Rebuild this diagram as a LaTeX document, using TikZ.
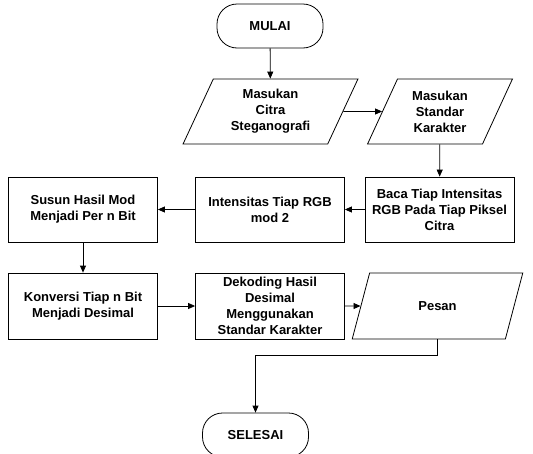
\documentclass[tikz,border=0pt]{standalone}
\usepackage{fontspec}
\setmainfont{Liberation Sans}
\usetikzlibrary{arrows.meta,shapes.geometric}

\begin{document}
\begin{tikzpicture}[x=1pt,y=-1pt,
  every node/.style={font=\bfseries\fontsize{13}{16}\selectfont,align=center},
  terminal/.style={draw,line width=0.8pt,rounded corners=20pt,minimum width=106pt,minimum height=44pt},
  proses/.style={draw,line width=0.8pt,minimum width=149pt,minimum height=65pt,inner sep=1pt},
  io/.style={draw,line width=0.8pt,trapezium,trapezium left angle=65,trapezium right angle=115,
    trapezium stretches=true,minimum height=65pt,inner sep=1pt},
  alur/.style={line width=0.8pt,-{Triangle[length=7pt,width=6pt]}}]
  \useasboundingbox (0,0) rectangle (533,453);
  % baris atas
  \node[terminal] (mulai) at (270,26) {MULAI};
  \node[io,minimum width=175pt] (citra) at (270.5,111.5) {Masukan\\Citra\\Steganografi};
  \node[io,minimum width=146pt] (standar) at (440,111.5) {Masukan\\Standar\\Karakter};
  % baris tengah
  \node[proses] (susun) at (83,209.5) {Susun Hasil Mod\\Menjadi Per n Bit};
  \node[proses] (mod) at (270,209.5) {Intensitas Tiap RGB\\mod 2};
  \node[proses] (baca) at (439.5,209.5) {Baca Tiap Intensitas\\RGB Pada Tiap Piksel\\Citra};
  % baris bawah
  \node[proses,minimum height=66pt] (konversi) at (83,306) {Konversi Tiap n Bit\\Menjadi Desimal};
  \node[proses,minimum height=66pt] (dekoding) at (270,306) {Dekoding Hasil\\Desimal\\Menggunakan\\Standar Karakter};
  \node[io,minimum width=171pt,minimum height=66pt] (pesan) at (437.5,306) {Pesan};
  \node[terminal] (selesai) at (255.5,435) {SELESAI};
  % alur
  \foreach \a/\b in {citra/standar,baca/mod,mod/susun,konversi/dekoding,dekoding/pesan}{
    \draw[alur] (\a) -- (\b);
  }
  \draw[alur] (mulai) -- (citra);
  \draw[alur] (standar) -- (baca);
  \draw[alur] (susun) -- (konversi);
  \draw[alur] (pesan.south) -- ++(0,16) -| (selesai.north);
\end{tikzpicture}
\end{document}
